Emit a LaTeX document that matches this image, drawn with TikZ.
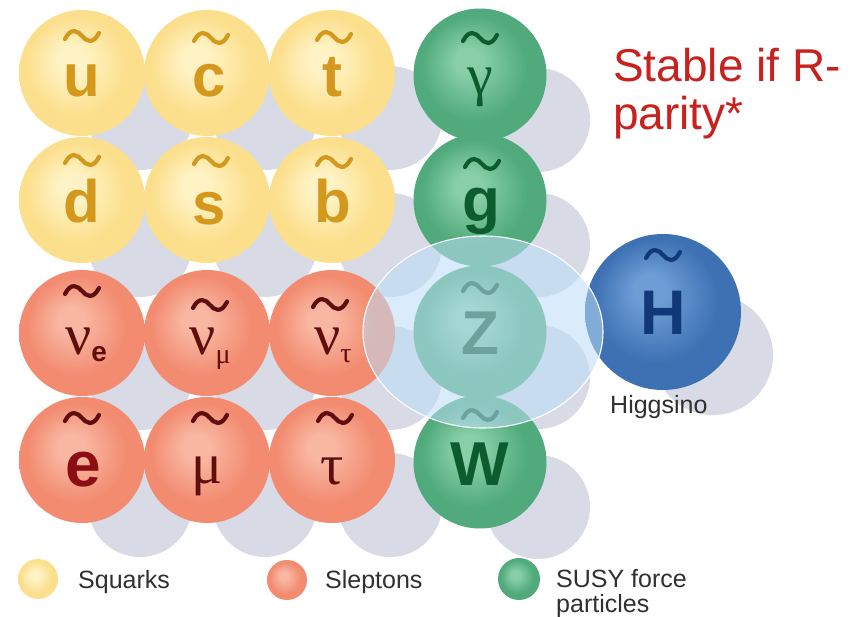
\documentclass[tikz,border=0pt]{standalone}
\usepackage{fontspec}
\setmainfont{Liberation Sans}
\newfontfamily\greekfont{Liberation Serif}
\newfontfamily\plainsans{Liberation Sans}
\usetikzlibrary{calc,backgrounds,shapes.geometric}

% ball colours
\definecolor{yHi}{HTML}{FFF3C6}
\definecolor{yMid}{HTML}{FCDF8C}
\definecolor{yRim}{HTML}{F1C25C}
\definecolor{yLet}{HTML}{D4981C}
\definecolor{rHi}{HTML}{F9B7A2}
\definecolor{rMid}{HTML}{F28B70}
\definecolor{rRim}{HTML}{DE664E}
\definecolor{rLet}{HTML}{5E0E0E}
\definecolor{eLet}{HTML}{8C0E12}
\definecolor{gHi}{HTML}{88CFA7}
\definecolor{gMid}{HTML}{50AA7B}
\definecolor{gRim}{HTML}{2E8858}
\definecolor{gLet}{HTML}{0D5C2E}
\definecolor{hHi}{HTML}{6E9DD6}
\definecolor{hMid}{HTML}{3D71B3}
\definecolor{hRim}{HTML}{24508E}
\definecolor{hLet}{HTML}{113878}
\definecolor{shadowc}{HTML}{D8DBE6}
\definecolor{glow}{HTML}{BCDDF8}
\definecolor{noteRed}{HTML}{C8211E}
\definecolor{legendText}{HTML}{303030}

\pgfdeclareradialshading{ballY}{\pgfpoint{-5bp}{6bp}}{color(0bp)=(yHi); color(5bp)=(yHi); color(20bp)=(yMid); color(27bp)=(yMid); color(36bp)=(yRim)}
\pgfdeclareradialshading{ballR}{\pgfpoint{-5bp}{6bp}}{color(0bp)=(rHi); color(5bp)=(rHi); color(20bp)=(rMid); color(27bp)=(rMid); color(36bp)=(rRim)}
\pgfdeclareradialshading{ballG}{\pgfpoint{-5bp}{6bp}}{color(0bp)=(gHi); color(5bp)=(gHi); color(20bp)=(gMid); color(27bp)=(gMid); color(36bp)=(gRim)}
\pgfdeclareradialshading{ballH}{\pgfpoint{-5bp}{8bp}}{color(0bp)=(hHi); color(5bp)=(hHi); color(20bp)=(hMid); color(27bp)=(hMid); color(36bp)=(hRim)}

\tikzset{
  orb/.style={circle, inner sep=0pt, shade},
  sqball/.style={orb, minimum size=126pt, shading=ballY},
  slball/.style={orb, minimum size=126pt, shading=ballR},
  gball/.style={orb, minimum size=133pt, shading=ballG},
  hball/.style={orb, minimum size=156pt, shading=ballH},
  legY/.style={orb, minimum size=40pt, shading=ballY},
  legR/.style={orb, minimum size=40pt, shading=ballR},
  legG/.style={orb, minimum size=42pt, shading=ballG},
  glyph/.style={anchor=base, inner sep=0pt},
  sqlet/.style={glyph, text=yLet, font=\fontsize{60}{60}\selectfont\bfseries},
  glet/.style={glyph, text=gLet, font=\fontsize{62}{62}\selectfont\bfseries},
  gglet/.style={glyph, text=gLet, font=\fontsize{58}{58}\selectfont\greekfont},
  hlet/.style={glyph, text=hLet, font=\fontsize{63}{63}\selectfont\bfseries},
  grlet/.style={glyph, text=rLet, font=\fontsize{58}{58}\selectfont\greekfont},
  elet/.style={glyph, text=eLet, font=\fontsize{64}{64}\selectfont\bfseries},
  legtext/.style={anchor=base west, inner sep=0pt, text=legendText, font=\fontsize{25}{25}\selectfont},
  note/.style={anchor=base west, inner sep=0pt, text=noteRed, font=\fontsize{46}{46}\selectfont},
  glowring/.style={ellipse, draw=white, line width=1.1pt, fill=glow, fill opacity=0.55,
                   minimum width=240pt, minimum height=192pt, inner sep=0pt},
  wave/.pic={\draw[line width=4.2pt, line cap=round]
      (-17,3) .. controls (-11,-9) and (-4,-5) .. (0,0) .. controls (4,5) and (11,9) .. (17,-3);}
}

% subscripts of the sneutrinos
\newcommand{\subE}{\lower7pt\hbox{\fontsize{28}{28}\selectfont\plainsans\bfseries e}}
\newcommand{\subMu}{\lower9pt\hbox{\fontsize{28}{28}\selectfont\greekfont μ}}
\newcommand{\subTau}{\lower8pt\hbox{\fontsize{28}{28}\selectfont\greekfont τ}}

\begin{document}
\begin{tikzpicture}[x=1pt, y=-1pt]
\useasboundingbox (0,0) rectangle (865,617);
\begin{pgfonlayer}{background}
  \fill[white] (0,0) rectangle (865,617);
\end{pgfonlayer}

% squarks
\node[sqball] (u) at (82,73) {};
\node[sqball] (c) at (207,73) {};
\node[sqball] (t) at (332,73) {};
\node[sqball] (d) at (82,200) {};
\node[sqball] (s) at (207,200) {};
\node[sqball] (b) at (332,200) {};
% sleptons
\node[slball] (nue) at (82,333) {};
\node[slball] (numu) at (207,333) {};
\node[slball] (nutau) at (332,333) {};
\node[slball] (e) at (82,460) {};
\node[slball] (mu) at (207,460) {};
\node[slball] (tau) at (332,460) {};
% gauginos
\node[gball] (gamma) at (480,75) {};
\node[gball] (g) at (480,200) {};
\node[gball] (Z) at (480,332) {};
\node[gball] (W) at (480,462) {};
% higgsino
\node[hball] (H) at (663,312) {};

% drop shadows behind every ball
\begin{pgfonlayer}{background}
  \foreach \b in {u,c,t,d,s,b,nue,numu,nutau,e,mu,tau,gamma,g,Z,W}
    \fill[shadowc] ($(\b)+(58,45)$) circle (52pt);
  \fill[shadowc] ($(H)+(50,43)$) circle (60pt);
\end{pgfonlayer}

% letters
\node[sqlet] (u-l) at (82,97) {u};
\node[sqlet] (c-l) at (209,97) {c};
\node[sqlet] (t-l) at (332,97) {t};
\node[sqlet] (d-l) at (82,223) {d};
\node[sqlet] (s-l) at (209,225) {s};
\node[sqlet] (b-l) at (333,223) {b};

\node[grlet] (nue-l) at (86,355) {ν\subE};
\node[grlet] (numu-l) at (210,355) {ν\subMu};
\node[grlet] (nutau-l) at (333,355) {ν\subTau};
\node[elet] (e-l) at (83,486) {e};
\node[grlet] (mu-l) at (207,483) {μ};
\node[grlet] (tau-l) at (332,484) {τ};

\node[gglet] (gamma-l) at (480,95) {γ};
\node[glet] (g-l) at (481,222) {g};
\node[glet] (Z-l) at (480,355) {Z};
\node[glet] (W-l) at (480,485) {W};
\node[hlet] (H-l) at (663,335) {H};

% tildes
\foreach \p in {(82,36),(211,38),(334,37),(82,160),(211,161),(334,162)}
  \pic[color=yLet] at \p {wave};
\foreach \p in {(82,291),(210,305),(330,304),(82,418),(210,418),(335,418)}
  \pic[color=rLet] at \p {wave};
\foreach \p in {(480,38),(482,164),(480,288),(480,415)}
  \pic[color=gLet] at \p {wave};
\pic[color=hLet] at (663,255) {wave};

\node[legtext] (higgsino) at (610,414) {Higgsino};

% highlighted neutralino
\node[glowring] (ring) at (483,332) {};

% note
\node[note] (note1) at (613,82) {Stable if R-};
\node[note] (note2) at (613,130) {parity*};

% legend
\node[legY] (keyY) at (38,579) {};
\node[legtext] (keyY-t) at (78,588) {Squarks};
\node[legR] (keyR) at (287,580) {};
\node[legtext] (keyR-t) at (325,588) {Sleptons};
\node[legG] (keyG) at (519,579) {};
\node[legtext] (keyG-t) at (556,587) {SUSY force};
\node[legtext] (keyG-t2) at (556,612) {particles};
\end{tikzpicture}
\end{document}
